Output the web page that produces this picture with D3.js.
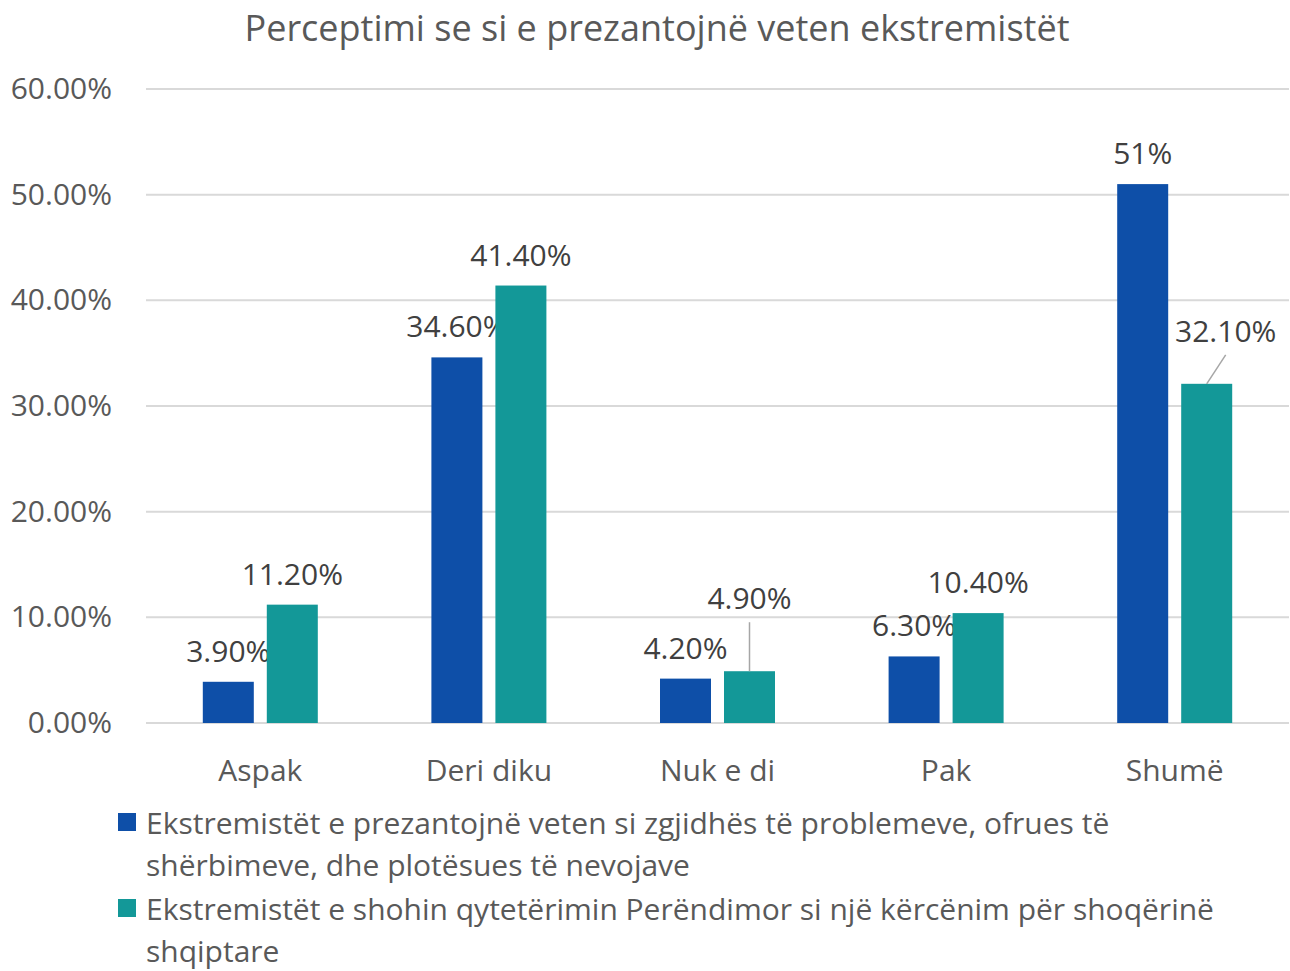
<!DOCTYPE html>
<html>
<head>
<meta charset="utf-8">
<script src="https://cdn.jsdelivr.net/npm/d3@7"></script>
<style>
  html, body { margin: 0; padding: 0; background: #fff; }
  #chart { width: 1290px; height: 971px; }
  text { font-family: "Open Sans", "Noto Sans", sans-serif; }
</style>
</head>
<body>
<div id="chart"></div>
<script>
'use strict';

const TITLE = 'Perceptimi se si e prezantojnë veten ekstremistët';
const CATEGORIES = ['Aspak', 'Deri diku', 'Nuk e di', 'Pak', 'Shumë'];
const SERIES_NAMES = [
  'Ekstremistët e prezantojnë veten si zgjidhës të problemeve, ofrues të shërbimeve, dhe plotësues të nevojave',
  'Ekstremistët e shohin qytetërimin Perëndimor si një kërcënim për shoqërinë shqiptare',
];
const SERIES_A = [3.9, 34.6, 4.2, 6.3, 51.0];
const SERIES_B = [11.2, 41.4, 4.9, 10.4, 32.1];
const LABELS_A = ['3.90%', '34.60%', '4.20%', '6.30%', '51%'];
const LABELS_B = ['11.20%', '41.40%', '4.90%', '10.40%', '32.10%'];
const Y_TICKS = [0, 10, 20, 30, 40, 50, 60];

// manual label nudges (px) for labels moved off their default spot, [series][category]
const LABEL_NUDGE = [
  [[0, 0], [0, 0], [0, 0], [0, 0], [0, 0]],
  [[0, 0], [0, 0], [0, -42], [0, 0], [19, -22]],
];

const COLORS = ['#0e4fa8', '#139898'];
const TEXT = '#595959';
const LABEL_TEXT = '#404040';
const GRID = '#d9d9d9';
const FONT = '"Open Sans", "Noto Sans", sans-serif';
const FS = 30;

const W = 1290, H = 971;
const PLOT = { left: 146, right: 1289, top: 89, bottom: 723 };

const svg = d3.select('#chart').append('svg')
  .attr('width', W).attr('height', H);

const x = d3.scaleBand().domain(CATEGORIES).range([PLOT.left, PLOT.right]);
const y = d3.scaleLinear().domain([0, 60]).range([PLOT.bottom, PLOT.top]);

const BAR_W = 51, BAR_GAP = 13;
const barX = (cat, s) => x(cat) + x.bandwidth() / 2 + (s === 0 ? -BAR_GAP / 2 - BAR_W : BAR_GAP / 2);

// Title
svg.append('text')
  .attr('x', 657).attr('y', 41)
  .attr('text-anchor', 'middle')
  .attr('font-size', '36px').attr('fill', TEXT)
  .text(TITLE);

// Gridlines
svg.append('g')
  .selectAll('line')
  .data(Y_TICKS)
  .join('line')
  .attr('x1', PLOT.left).attr('x2', PLOT.right)
  .attr('y1', d => y(d)).attr('y2', d => y(d))
  .attr('stroke', GRID).attr('stroke-width', 2);

// Y axis labels
const yAxis = svg.append('g')
  .attr('transform', `translate(${PLOT.left},0)`)
  .call(d3.axisLeft(y).tickValues(Y_TICKS).tickSize(0).tickPadding(34)
    .tickFormat(d => d.toFixed(2) + '%'));
yAxis.select('.domain').remove();
yAxis.selectAll('text')
  .attr('font-size', FS + 'px').attr('fill', TEXT)
  .attr('font-family', FONT);

// X axis labels
const xAxis = svg.append('g')
  .attr('transform', `translate(0,${PLOT.bottom})`)
  .call(d3.axisBottom(x).tickSize(0).tickPadding(37));
xAxis.select('.domain').remove();
xAxis.selectAll('text')
  .attr('font-size', FS + 'px').attr('fill', TEXT)
  .attr('font-family', FONT);

// Bars + labels
[SERIES_A, SERIES_B].forEach((vals, s) => {
  const labels = s === 0 ? LABELS_A : LABELS_B;
  const data = CATEGORIES.map((c, i) => ({ c, i, v: vals[i], label: labels[i] }));

  svg.append('g')
    .selectAll('rect')
    .data(data)
    .join('rect')
    .attr('x', d => barX(d.c, s))
    .attr('y', d => y(d.v))
    .attr('width', BAR_W)
    .attr('height', d => y(0) - y(d.v))
    .attr('fill', COLORS[s]);

  const lg = svg.append('g');
  data.forEach(d => {
    const cx = barX(d.c, s) + BAR_W / 2;
    const top = y(d.v);
    const [dx, dy] = LABEL_NUDGE[s][d.i];
    const lx = cx + dx, ly = top - 20 + dy;
    if (dx !== 0 || dy !== 0) {
      lg.append('line')
        .attr('x1', cx).attr('y1', top)
        .attr('x2', lx).attr('y2', ly + 13)
        .attr('stroke', '#a6a6a6').attr('stroke-width', 1.5);
    }
    lg.append('text')
      .attr('x', lx).attr('y', ly)
      .attr('text-anchor', 'middle')
      .attr('font-size', FS + 'px').attr('fill', LABEL_TEXT)
      .text(d.label);
  });
});

// Legend with wrapping
const legend = svg.append('g');
const LEG_X = 118, LINE_H = 42, MAX_W = 1090;
let ly = 834;
SERIES_NAMES.forEach((name, s) => {
  legend.append('rect')
    .attr('x', LEG_X).attr('y', ly - 21)
    .attr('width', 18).attr('height', 18)
    .attr('fill', COLORS[s]);
  const t = legend.append('text')
    .attr('font-size', FS + 'px').attr('fill', TEXT);
  const words = name.split(' ');
  let line = [];
  let ts = t.append('tspan').attr('x', LEG_X + 28).attr('y', ly);
  words.forEach(w => {
    line.push(w);
    ts.text(line.join(' '));
    if (ts.node().getComputedTextLength() > MAX_W && line.length > 1) {
      line.pop();
      ts.text(line.join(' '));
      line = [w];
      ly += LINE_H;
      ts = t.append('tspan').attr('x', LEG_X + 28).attr('y', ly).text(w);
    }
  });
  ly += LINE_H + 2;
});
</script>
</body>
</html>
